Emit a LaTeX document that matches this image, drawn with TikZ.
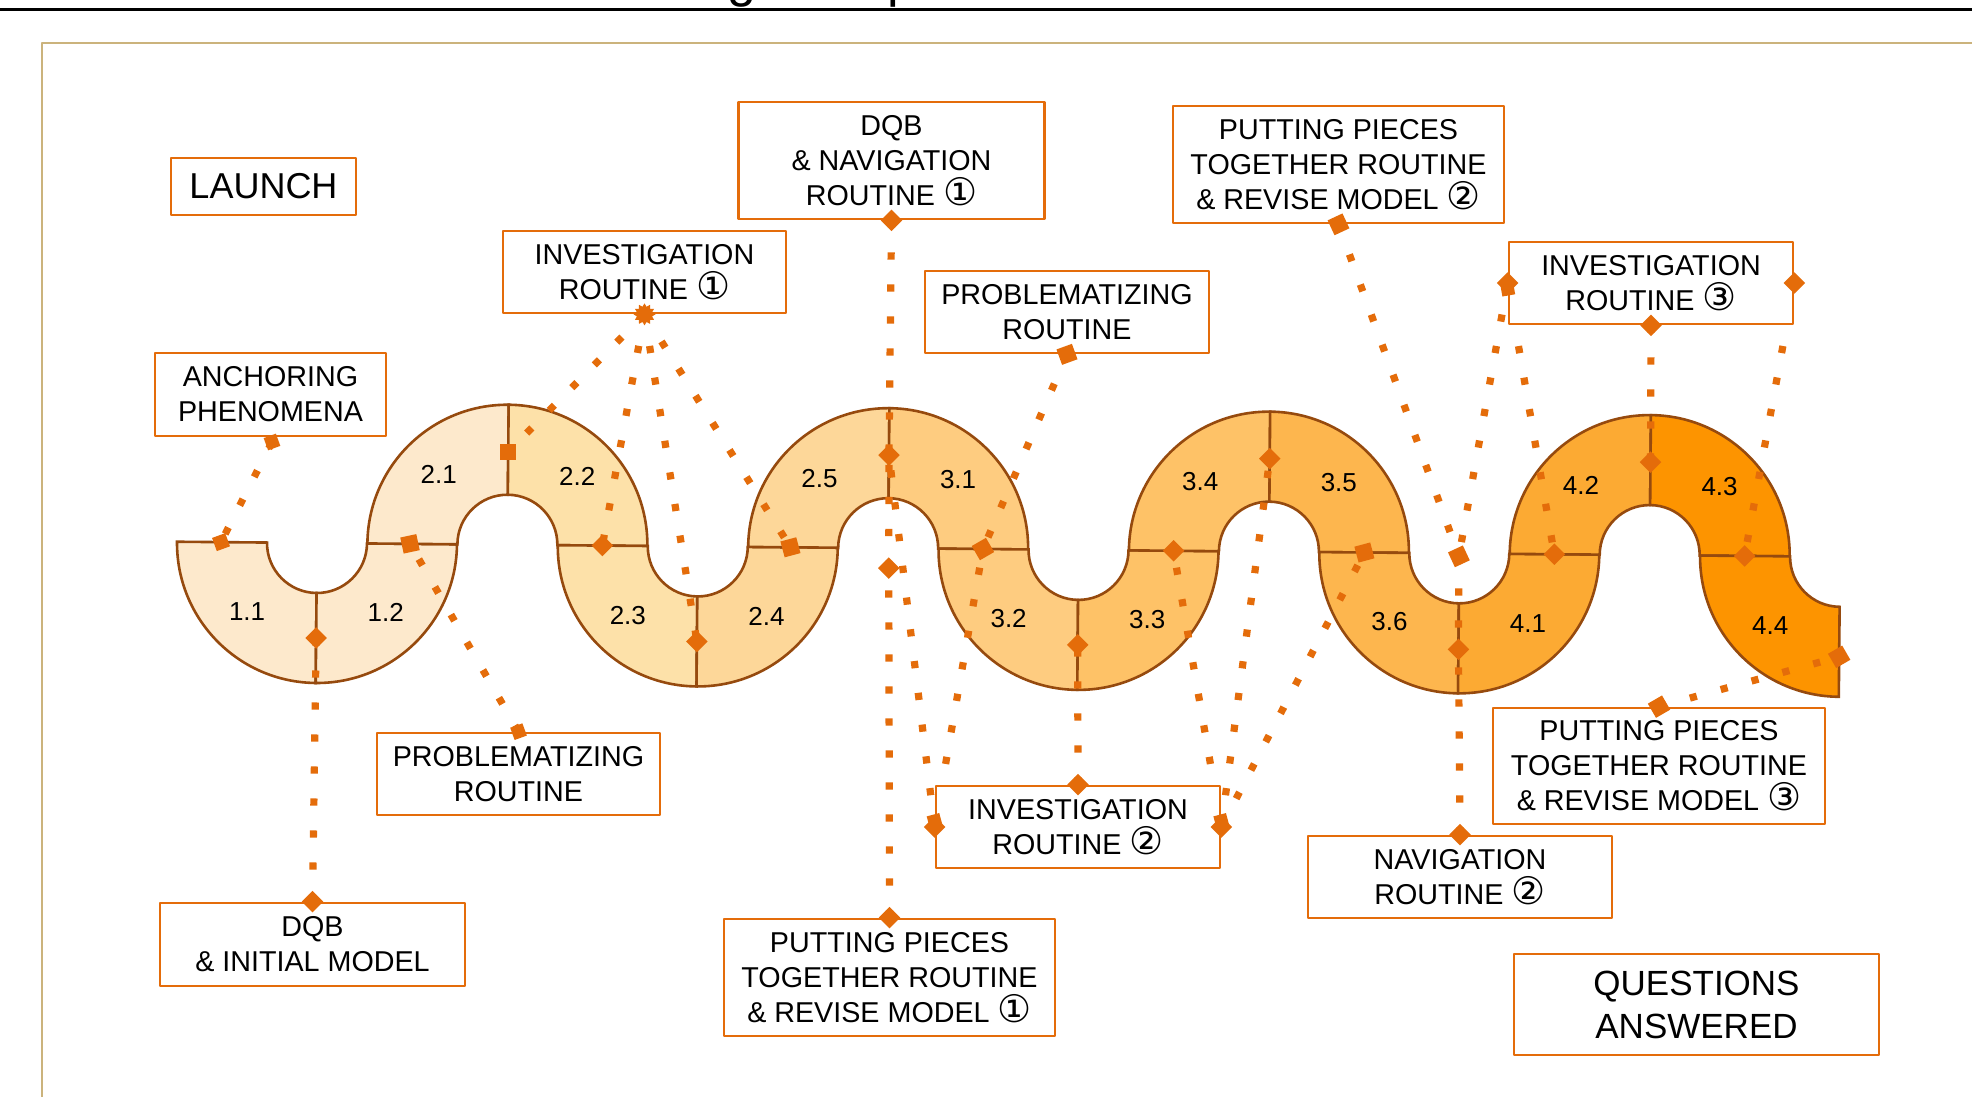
\documentclass[tikz,border=0pt]{standalone}
\usepackage{fontspec}
\setmainfont{Liberation Sans}
\newfontfamily\symf{DejaVu Sans}
\usetikzlibrary{shapes.geometric}
\pgfdeclarelayer{bandlayer}
\pgfdeclarelayer{linelayer}
\pgfsetlayers{bandlayer,linelayer,main}
\definecolor{boxor}{HTML}{E46C0A}
\definecolor{bandbrown}{HTML}{964A0E}
\definecolor{goldframe}{HTML}{CBB37C}
\definecolor{segA}{HTML}{FDE9CC}
\definecolor{segB}{HTML}{FDE1A9}
\definecolor{segC}{HTML}{FDD799}
\definecolor{segD}{HTML}{FECC80}
\definecolor{segE}{HTML}{FEC267}
\definecolor{segF}{HTML}{FDB64E}
\definecolor{segG}{HTML}{FCAA33}
\definecolor{segH}{HTML}{FD9400}
\newcommand\cn[1]{{\symf\fontsize{19}{17.5}\selectfont #1}}
\tikzset{
  rbox/.style={draw=boxor, line width=1.35pt, fill=white, align=center, inner sep=0pt,
    font=\fontsize{14.35}{17.5}\selectfont},
  bigbox/.style={rbox, font=\fontsize{18}{22}\selectfont},
  qabox/.style={rbox, font=\fontsize{17.5}{21.5}\selectfont},
  bandline/.style={draw=bandbrown, line width=1.3pt},
  seglabel/.style={font=\fontsize{13}{15}\selectfont, inner sep=0pt},
  mk/.style={fill=boxor, draw=none, rectangle, inner sep=0pt, outer sep=0pt},
  dia/.style={mk, rotate=45, minimum size=7.6pt},
  tsq/.style={mk, rotate=#1, minimum size=8.2pt},
  ssq/.style={mk, rotate=#1, minimum size=6.5pt},
  burst/.style={fill=boxor, draw=none, star, star points=12, star point ratio=1.4, minimum size=11pt, inner sep=0pt},
  dotline/.style={draw=boxor, line width=3.6pt, dash pattern=on 3.6pt off 12.4pt},
  titlefont/.style={font=\fontsize{26}{26}\selectfont}
}
\newcommand\bandseg[6]{%
  \filldraw[bandline, fill=#4] ([shift={(#1,0)}]#2:140) arc[start angle=#2, end angle=#3, radius=140]
    -- ([shift={(#1,0)}]#3:50) arc[start angle=#3, end angle=#2, radius=50] -- cycle;
  \pgfmathsetmacro\midang{(#2+#3)/2}
  \node[seglabel] (#6) at ([shift={(#1,0)}]\midang:98) {#5};
}
\begin{document}
\begin{tikzpicture}[x=0.5pt, y=0.5pt, line join=round]
\useasboundingbox (0,0) rectangle (1972,-1097);
% top fragments (title cut off by the page edge)
\draw[line width=1.4pt] (-10,-9.5) -- (1990,-9.5);
\node[titlefont, anchor=base, inner sep=0pt] (tg) at (742,3) {g};
\node[titlefont, anchor=base west, inner sep=0pt] (tp) at (887,3) {p};
\draw[draw=goldframe, line width=1pt] (41.5,-1110) -- (41.5,-42.7) -- (1990,-42.7);

% serpentine band
\begin{pgfonlayer}{bandlayer}
\begin{scope}[shift={(317,-543)}, rotate=-0.52]
\bandseg{0}{180}{270}{segA}{1.1}{s11}
\bandseg{0}{270}{360}{segA}{1.2}{s12}
\bandseg{190.4}{180}{90}{segA}{2.1}{s21}
\bandseg{190.4}{90}{0}{segB}{2.2}{s22}
\bandseg{380.8}{180}{270}{segB}{2.3}{s23}
\bandseg{380.8}{270}{360}{segC}{2.4}{s24}
\bandseg{571.2}{180}{90}{segC}{2.5}{s25}
\bandseg{571.2}{90}{0}{segD}{3.1}{s31}
\bandseg{761.6}{180}{270}{segD}{3.2}{s32}
\bandseg{761.6}{270}{360}{segE}{3.3}{s33}
\bandseg{952}{180}{90}{segE}{3.4}{s34}
\bandseg{952}{90}{0}{segF}{3.5}{s35}
\bandseg{1142.4}{180}{270}{segF}{3.6}{s36}
\bandseg{1142.4}{270}{360}{segG}{4.1}{s41}
\bandseg{1332.8}{180}{90}{segG}{4.2}{s42}
\bandseg{1332.8}{90}{0}{segH}{4.3}{s43}
\bandseg{1523.2}{180}{270}{segH}{4.4}{s44}
\coordinate (cp11) at (-96,0);
\coordinate (c1112) at (0,-95);
\coordinate (c1221) at (93,0);
\coordinate (c2122) at (190.4,93);
\coordinate (c2223) at (285.4,0);
\coordinate (c2324) at (380.8,-95);
\coordinate (c2425) at (473.5,0);
\coordinate (c2531) at (571.2,93);
\coordinate (cgapd) at (572,-20);
\coordinate (c3132) at (666,0);
\coordinate (c3233) at (761.6,-95);
\coordinate (c3334) at (856.6,0);
\coordinate (c3435) at (952,93);
\coordinate (c3536) at (1047.5,0);
\coordinate (cgapsq) at (1142,-3);
\coordinate (c3641) at (1142.4,-96);
\coordinate (c4142) at (1237.4,0);
\coordinate (c4243) at (1332.8,93);
\coordinate (c4344) at (1427.8,0);
\coordinate (cend4) at (1523.2,-100);
\end{scope}
\end{pgfonlayer}

% boxes
\node[bigbox, minimum width=92.5pt, minimum height=28.5pt] (launch) at (263.5,-186.5) {LAUNCH};
\node[rbox, minimum width=115.5pt, minimum height=41.5pt] (anch) at (270.5,-394.5) {ANCHORING\\PHENOMENA};
\node[rbox, minimum width=141.5pt, minimum height=41pt] (ir1) at (644.5,-272) {INVESTIGATION\\ROUTINE \cn{①}};
\node[rbox, minimum width=153pt, minimum height=58.5pt] (dqbn) at (891.5,-160.5) {DQB\\\& NAVIGATION\\ROUTINE \cn{①}};
\node[rbox, minimum width=142pt, minimum height=41pt] (probt) at (1067,-312) {PROBLEMATIZING\\ROUTINE};
\node[rbox, minimum width=165.5pt, minimum height=58.5pt] (pp2) at (1338.5,-164.5) {PUTTING PIECES\\TOGETHER ROUTINE\\\& REVISE MODEL \cn{②}};
\node[rbox, minimum width=142pt, minimum height=41pt] (ir3) at (1651,-283) {INVESTIGATION\\ROUTINE \cn{③}};
\node[rbox, minimum width=141.5pt, minimum height=41pt] (probb) at (518.5,-774) {PROBLEMATIZING\\ROUTINE};
\node[rbox, minimum width=152.5pt, minimum height=41.5pt] (dqbi) at (312.5,-944.5) {DQB\\\& INITIAL MODEL};
\node[rbox, minimum width=165.5pt, minimum height=58.5pt] (pp1) at (889.5,-977.5) {PUTTING PIECES\\TOGETHER ROUTINE\\\& REVISE MODEL \cn{①}};
\node[rbox, minimum width=142pt, minimum height=41pt] (ir2) at (1078,-827) {INVESTIGATION\\ROUTINE \cn{②}};
\node[rbox, minimum width=152pt, minimum height=41pt] (nr2) at (1460,-877) {NAVIGATION\\ROUTINE \cn{②}};
\node[rbox, minimum width=166pt, minimum height=58pt] (pp3) at (1659,-766) {PUTTING PIECES\\TOGETHER ROUTINE\\\& REVISE MODEL \cn{③}};
\node[qabox, minimum width=182.5pt, minimum height=50.5pt] (qa) at (1696.5,-1004.5) {QUESTIONS\\ANSWERED};

% markers on the band
\node[tsq=20, minimum size=7pt] (p11) at (cp11) {};
\node[dia] (d1112) at (c1112) {};
\node[tsq=12] (d1221) at (c1221) {};
\node[tsq=0] (d2122) at (c2122) {};
\node[dia] (d2223) at (c2223) {};
\node[dia] (d2324) at (c2324) {};
\node[tsq=15] (d2425) at (c2425) {};
\node[dia] (d2531) at (c2531) {};
\node[dia] (gapd) at (cgapd) {};
\node[tsq=30] (d3132) at (c3132) {};
\node[dia] (d3233) at (c3233) {};
\node[dia] (d3334) at (c3334) {};
\node[dia] (d3435) at (c3435) {};
\node[tsq=15] (d3536) at (c3536) {};
\node[tsq=25] (gapsq) at (cgapsq) {};
\node[dia] (d3641) at (c3641) {};
\node[dia] (d4142) at (c4142) {};
\node[dia] (d4243) at (c4243) {};
\node[dia] (d4344) at (c4344) {};
\node[tsq=30] (end4) at (cend4) {};

% markers on the boxes
\node[ssq=20] (anchm) at (272,-442) {};
\node[dia] (dqbim) at (dqbi.north) {};
\node[ssq=20] (probbm) at (probb.north) {};
\node[burst] (ir1m) at (ir1.south) {};
\node[dia] (dqbnm) at (dqbn.south) {};
\node[tsq=20] (probtm) at (probt.south) {};
\node[dia] (pp1m) at (pp1.north) {};
\node[dia] (ir2n) at (ir2.north) {};
\node[dia] (ir2w) at (ir2.west) {};
\node[ssq=15] (ir2wb) at ([yshift=3pt]ir2.west) {};
\node[dia] (ir2e) at (ir2.east) {};
\node[ssq=15] (ir2eb) at ([yshift=3pt]ir2.east) {};
\node[tsq=25] (pp2m) at (pp2.south) {};
\node[dia] (ir3w) at (ir3.west) {};
\node[ssq=10] (ir3wb) at ([yshift=-3pt]ir3.west) {};
\node[dia] (ir3s) at (ir3.south) {};
\node[dia] (ir3e) at (ir3.east) {};
\node[dia] (nr2m) at (nr2.north) {};
\node[tsq=30] (pp3m) at (pp3.north) {};

% dotted connectors
\begin{pgfonlayer}{linelayer}
\draw[dotline] (anchm.center) -- (p11.center);
\draw[dotline] (dqbim.center) -- (d1112.center);
\draw[dotline] (probbm.center) -- (d1221.center);
\draw[dotline] (ir1m.center) -- (d2122.center);
\draw[dotline] (ir1m.center) -- (d2223.center);
\draw[dotline] (ir1m.center) -- (d2324.center);
\draw[dotline] (ir1m.center) -- (d2425.center);
\draw[dotline] (dqbnm.center) -- (d2531.center);
\draw[dotline] (probtm.center) -- (d3132.center);
\draw[dotline] (pp1m.center) -- (gapd.center);
\draw[dotline] (gapd.center) -- (d2531.center);
\draw[dotline] (ir2w.center) -- (d2531.center);
\draw[dotline] (ir2w.center) -- (d3132.center);
\draw[dotline] (ir2n.center) -- (d3233.center);
\draw[dotline] (ir2e.center) -- (d3334.center);
\draw[dotline] (ir2e.center) -- (d3435.center);
\draw[dotline] (ir2e.center) -- (d3536.center);
\draw[dotline] (pp2m.center) -- (gapsq.center);
\draw[dotline] (ir3w.center) -- (gapsq.center);
\draw[dotline] (ir3w.center) -- (d4142.center);
\draw[dotline] (gapsq.center) -- (d3641.center);
\draw[dotline] (nr2m.center) -- (d3641.center);
\draw[dotline] (ir3s.center) -- (d4243.center);
\draw[dotline] (ir3e.center) -- (d4344.center);
\draw[dotline] (pp3m.center) -- (end4.center);
\end{pgfonlayer}
\end{tikzpicture}
\end{document}
